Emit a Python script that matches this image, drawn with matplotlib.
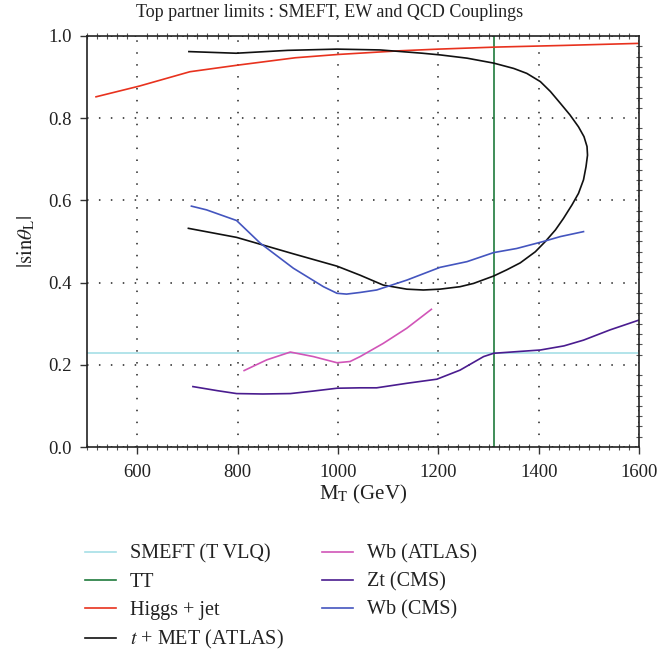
import matplotlib
matplotlib.use("Agg")
import matplotlib.pyplot as plt
from matplotlib.ticker import MultipleLocator, FormatStrFormatter

plt.rcParams["font.family"] = ["Liberation Serif", "DejaVu Serif"]
plt.rcParams["mathtext.fontset"] = "stix"

# Higgs + jet
higgs_m = [518, 604, 705, 800, 915, 1000, 1124, 1200, 1315, 1450, 1600]
higgs_s = [0.852, 0.878, 0.913, 0.929, 0.947, 0.955, 0.964, 0.968, 0.973, 0.977, 0.982]

# t + MET (ATLAS): contour traced from the lower-left end, round the right, back to the upper-left end
met_m = [702, 798, 911, 998, 1044, 1090, 1137, 1170, 1203, 1243, 1270, 1310, 1336,
         1363, 1393, 1413, 1433, 1449, 1466, 1479, 1489, 1494, 1497, 1496, 1490,
         1479, 1462, 1443, 1423, 1403, 1376, 1350, 1310, 1257, 1203, 1168, 1084,
         998, 900, 797, 703]
met_s = [0.532, 0.510, 0.470, 0.440, 0.418, 0.394, 0.384, 0.382, 0.384, 0.390, 0.398,
         0.416, 0.431, 0.448, 0.475, 0.500, 0.528, 0.556, 0.589, 0.617, 0.650, 0.682,
         0.710, 0.731, 0.755, 0.779, 0.808, 0.836, 0.865, 0.889, 0.909, 0.921, 0.934,
         0.946, 0.954, 0.958, 0.966, 0.968, 0.965, 0.958, 0.962]

# Wb (CMS)
wbc_m = [708, 738, 798, 845, 911, 971, 998, 1017, 1044, 1077, 1137, 1203, 1257,
         1310, 1356, 1409, 1443, 1489]
wbc_s = [0.586, 0.577, 0.551, 0.496, 0.435, 0.390, 0.374, 0.372, 0.376, 0.382,
         0.406, 0.437, 0.451, 0.473, 0.483, 0.500, 0.512, 0.524]

# Wb (ATLAS)
wba_m = [813, 858, 905, 951, 998, 1024, 1044, 1090, 1137, 1186]
wba_s = [0.186, 0.212, 0.231, 0.220, 0.205, 0.208, 0.220, 0.252, 0.289, 0.335]

# Zt (CMS)
zt_m = [711, 760, 798, 850, 905, 950, 998, 1044, 1077, 1137, 1197, 1243, 1290,
        1310, 1356, 1403, 1450, 1489, 1542, 1600]
zt_s = [0.147, 0.137, 0.130, 0.129, 0.130, 0.136, 0.143, 0.144, 0.144, 0.155,
        0.165, 0.187, 0.220, 0.228, 0.232, 0.236, 0.246, 0.260, 0.285, 0.309]

# SMEFT (T VLQ) bound and TT mass bound
smeft_s = 0.229
tt_m = 1310

fig = plt.figure(figsize=(6.59, 6.54), dpi=100)
ax = fig.add_axes([0.132, 0.3165, 0.838, 0.6285])

l_smeft = ax.axhline(smeft_s, color="#a6dfe6", lw=1.2, label="SMEFT (T VLQ)")
l_tt = ax.axvline(tt_m, color="#1f7a3c", lw=1.2, label="TT")
l_h, = ax.plot(higgs_m, higgs_s, color="#e8321e", lw=1.2, label="Higgs + jet")
l_met, = ax.plot(met_m, met_s, color="#111111", lw=1.2, label=r"$t$ + MET (ATLAS)")
l_wba, = ax.plot(wba_m, wba_s, color="#d155b8", lw=1.2, label="Wb (ATLAS)")
l_zt, = ax.plot(zt_m, zt_s, color="#4a1c8f", lw=1.2, label="Zt (CMS)")
l_wbc, = ax.plot(wbc_m, wbc_s, color="#4455bf", lw=1.2, label="Wb (CMS)")

ax.set_xlim(500, 1600)
ax.set_ylim(0.0, 1.0)
ax.set_xticks([600, 800, 1000, 1200, 1400, 1600])
ax.xaxis.set_minor_locator(MultipleLocator(20))
ax.yaxis.set_major_locator(MultipleLocator(0.2))
ax.yaxis.set_minor_locator(MultipleLocator(0.025))
ax.yaxis.set_major_formatter(FormatStrFormatter("%.1f"))

ax.tick_params(axis="both", which="major", direction="out", length=5, width=1,
               labelsize=13.5, colors="#333333", labelcolor="#222222")
ax.tick_params(axis="x", which="major", pad=7, top=False)
ax.tick_params(axis="y", which="major", pad=6, right=False)
ax.tick_params(axis="x", which="minor", direction="inout", length=4, width=0.8,
               top=True, colors="#555555")
ax.tick_params(axis="y", which="minor", direction="inout", length=4, width=0.8,
               left=False, right=True, colors="#555555")

for s in ax.spines.values():
    s.set_linewidth(1.2)
    s.set_color("#222222")

ax.grid(True, which="major", color="#222222", linestyle=(0, (1, 6.8)), linewidth=1.1)

# Title centred on the figure rather than on the axes
fig.text(0.5, 0.981, "Top partner limits : SMEFT, EW and QCD Couplings", fontsize=13,
         ha="center", va="center", color="#222222")
ax.set_xlabel(r"M$_{\rm T}$ (GeV)", fontsize=15, labelpad=2, color="#222222")
ax.set_ylabel(r"$|\mathrm{sin}\theta_{\rm L}|$", fontsize=15, labelpad=8, color="#222222")

handles = [l_smeft, l_tt, l_h, l_met, l_wba, l_zt, l_wbc]
fig.legend(handles=handles, labels=[h.get_label() for h in handles],
           loc="upper left", bbox_to_anchor=(0.113, 0.183), ncol=2, frameon=False,
           fontsize=14.5, handlelength=1.54, handletextpad=0.7, columnspacing=1.9,
           labelspacing=0.44, borderpad=0, labelcolor="#222222")

fig.savefig("out.png", dpi=100)
